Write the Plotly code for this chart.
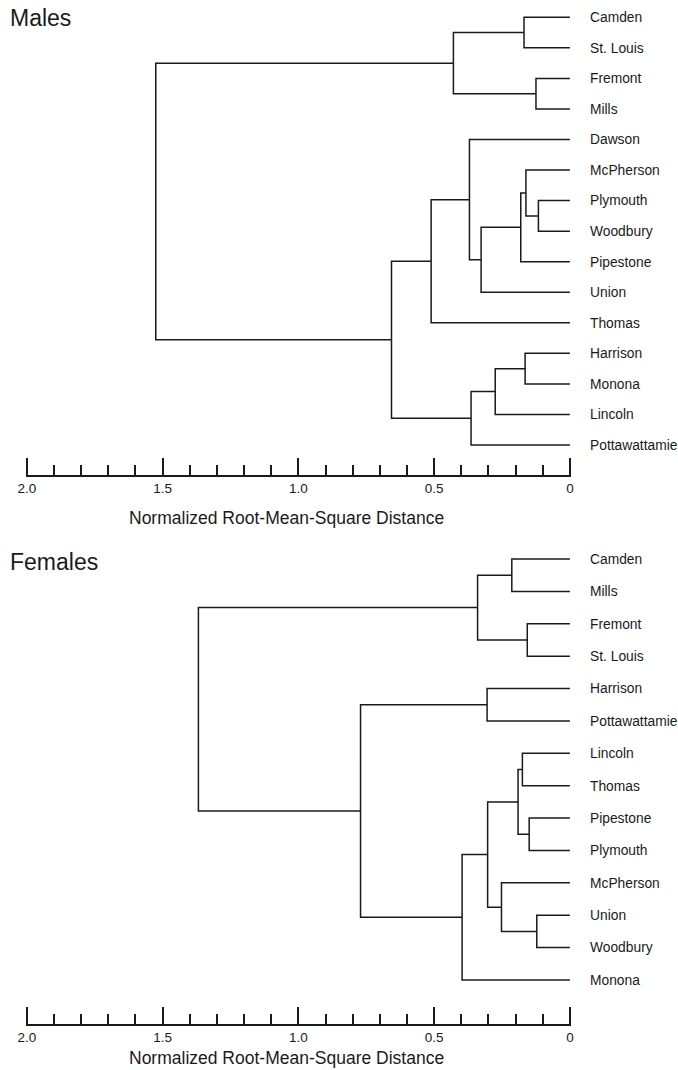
import plotly.graph_objects as go

# ---------------- data ----------------
male_leaves = ["Camden", "St. Louis", "Fremont", "Mills", "Dawson", "McPherson",
               "Plymouth", "Woodbury", "Pipestone", "Union", "Thomas", "Harrison",
               "Monona", "Lincoln", "Pottawattamie"]
# merges: (child_a, child_b, height); children are leaf names or "mN" merge ids
male_merges = [
    ("Plymouth", "Woodbury", 0.116),   # m0
    ("Fremont", "Mills", 0.125),       # m1
    ("McPherson", "m0", 0.162),        # m2
    ("Harrison", "Monona", 0.165),     # m3
    ("Camden", "St. Louis", 0.169),    # m4
    ("m2", "Pipestone", 0.181),        # m5
    ("m3", "Lincoln", 0.275),          # m6
    ("m5", "Union", 0.327),            # m7
    ("m6", "Pottawattamie", 0.364),    # m8
    ("Dawson", "m7", 0.370),           # m9
    ("m4", "m1", 0.429),               # m10
    ("m9", "Thomas", 0.511),           # m11
    ("m11", "m8", 0.657),              # m12
    ("m10", "m12", 1.525),             # m13
]

female_leaves = ["Camden", "Mills", "Fremont", "St. Louis", "Harrison", "Pottawattamie",
                 "Lincoln", "Thomas", "Pipestone", "Plymouth", "McPherson", "Union",
                 "Woodbury", "Monona"]
female_merges = [
    ("Union", "Woodbury", 0.122),          # m0
    ("Pipestone", "Plymouth", 0.150),      # m1
    ("Fremont", "St. Louis", 0.157),       # m2
    ("Lincoln", "Thomas", 0.175),          # m3
    ("m3", "m1", 0.191),                   # m4
    ("Camden", "Mills", 0.214),            # m5
    ("McPherson", "m0", 0.252),            # m6
    ("m4", "m6", 0.303),                   # m7
    ("Harrison", "Pottawattamie", 0.305),  # m8
    ("m5", "m2", 0.340),                   # m9
    ("m7", "Monona", 0.397),               # m10
    ("m8", "m10", 0.771),                  # m11
    ("m9", "m11", 1.368),                  # m12
]

panel_titles = ["Males", "Females"]
axis_title = "Normalized Root-Mean-Square Distance"
major_ticks = [2.0, 1.5, 1.0, 0.5, 0.0]
major_labels = ["2.0", "1.5", "1.0", "0.5", "0"]
minor_ticks = [round(0.1 * i, 1) for i in range(1, 20) if i % 5 != 0]

# ---------------- helpers ----------------
def dendro_segments(leaves, merges):
    pos = {name: (float(i), 0.0) for i, name in enumerate(leaves)}
    xs, ys = [], []
    for k, (a, b, h) in enumerate(merges):
        ya, ha = pos[a]
        yb, hb = pos[b]
        xs += [ha, h, h, hb, None]
        ys += [ya, ya, yb, yb, None]
        pos["m%d" % k] = ((ya + yb) / 2.0, h)
    return xs, ys

LINE = "#1a1a1a"
FONT = "Liberation Sans, Arial, Helvetica, sans-serif"
W, H = 678, 1070

fig = go.Figure()

panels = [
    dict(leaves=male_leaves, merges=male_merges, top=5, bottom=475,
         first_px=17.3, last_px=445, title_y=18, atitle_y=518),
    dict(leaves=female_leaves, merges=female_merges, top=545, bottom=1024,
         first_px=559, last_px=980, title_y=562, atitle_y=1058),
]

x_dom = [25.7 / W, 571 / W]

for i, p in enumerate(panels):
    sfx = "" if i == 0 else str(i + 1)
    xs, ys = dendro_segments(p["leaves"], p["merges"])
    fig.add_trace(go.Scatter(x=xs, y=ys, mode="lines",
                             line=dict(color=LINE, width=1.5),
                             xaxis="x" + sfx, yaxis="y" + sfx,
                             hoverinfo="skip", showlegend=False))
    n = len(p["leaves"])
    step = (p["last_px"] - p["first_px"]) / (n - 1)
    r_top = -(p["first_px"] - p["top"]) / step
    r_bot = (n - 1) + (p["bottom"] - p["last_px"]) / step
    ydom = [1 - p["bottom"] / H, 1 - p["top"] / H]

    fig.layout["xaxis" + sfx] = dict(
        domain=x_dom, range=[2.004, -0.004], anchor="y" + sfx, automargin=False,
        showgrid=False, zeroline=False, showline=True,
        linecolor=LINE, linewidth=1.5,
        ticks="inside", ticklen=17, tickwidth=1.5, tickcolor=LINE,
        tickvals=major_ticks, ticktext=major_labels,
        tickfont=dict(family=FONT, size=13.5, color="#1a1a1a"),
        minor=dict(tickvals=minor_ticks, ticks="inside", ticklen=10,
                   tickwidth=1.5, tickcolor=LINE, showgrid=False),
    )
    fig.layout["yaxis" + sfx] = dict(
        domain=ydom, range=[r_bot, r_top], anchor="x" + sfx, side="right",
        automargin=False,
        showgrid=False, zeroline=False, showline=False, ticks="",
        tickvals=list(range(n)), ticktext=p["leaves"],
        ticklabelstandoff=18,
        tickfont=dict(family=FONT, size=13.8, color="#1a1a1a"),
    )
    fig.add_annotation(text=panel_titles[i], xref="paper", yref="paper",
                       x=8 / W, y=1 - p["title_y"] / H, xanchor="left", yanchor="middle",
                       showarrow=False, font=dict(family=FONT, size=23, color="#1a1a1a"))
    fig.add_annotation(text=axis_title, xref="paper", yref="paper",
                       x=286 / W, y=1 - p["atitle_y"] / H, xanchor="center", yanchor="middle",
                       showarrow=False, font=dict(family=FONT, size=17.5, color="#1a1a1a"))

fig.update_layout(width=W, height=H, margin=dict(l=0, r=0, t=0, b=0, autoexpand=False),
                  paper_bgcolor="white", plot_bgcolor="white", showlegend=False)

fig.write_html("out.html", config={"displayModeBar": False},
               post_script="document.body.style.margin='0';document.body.style.overflow='hidden';")
